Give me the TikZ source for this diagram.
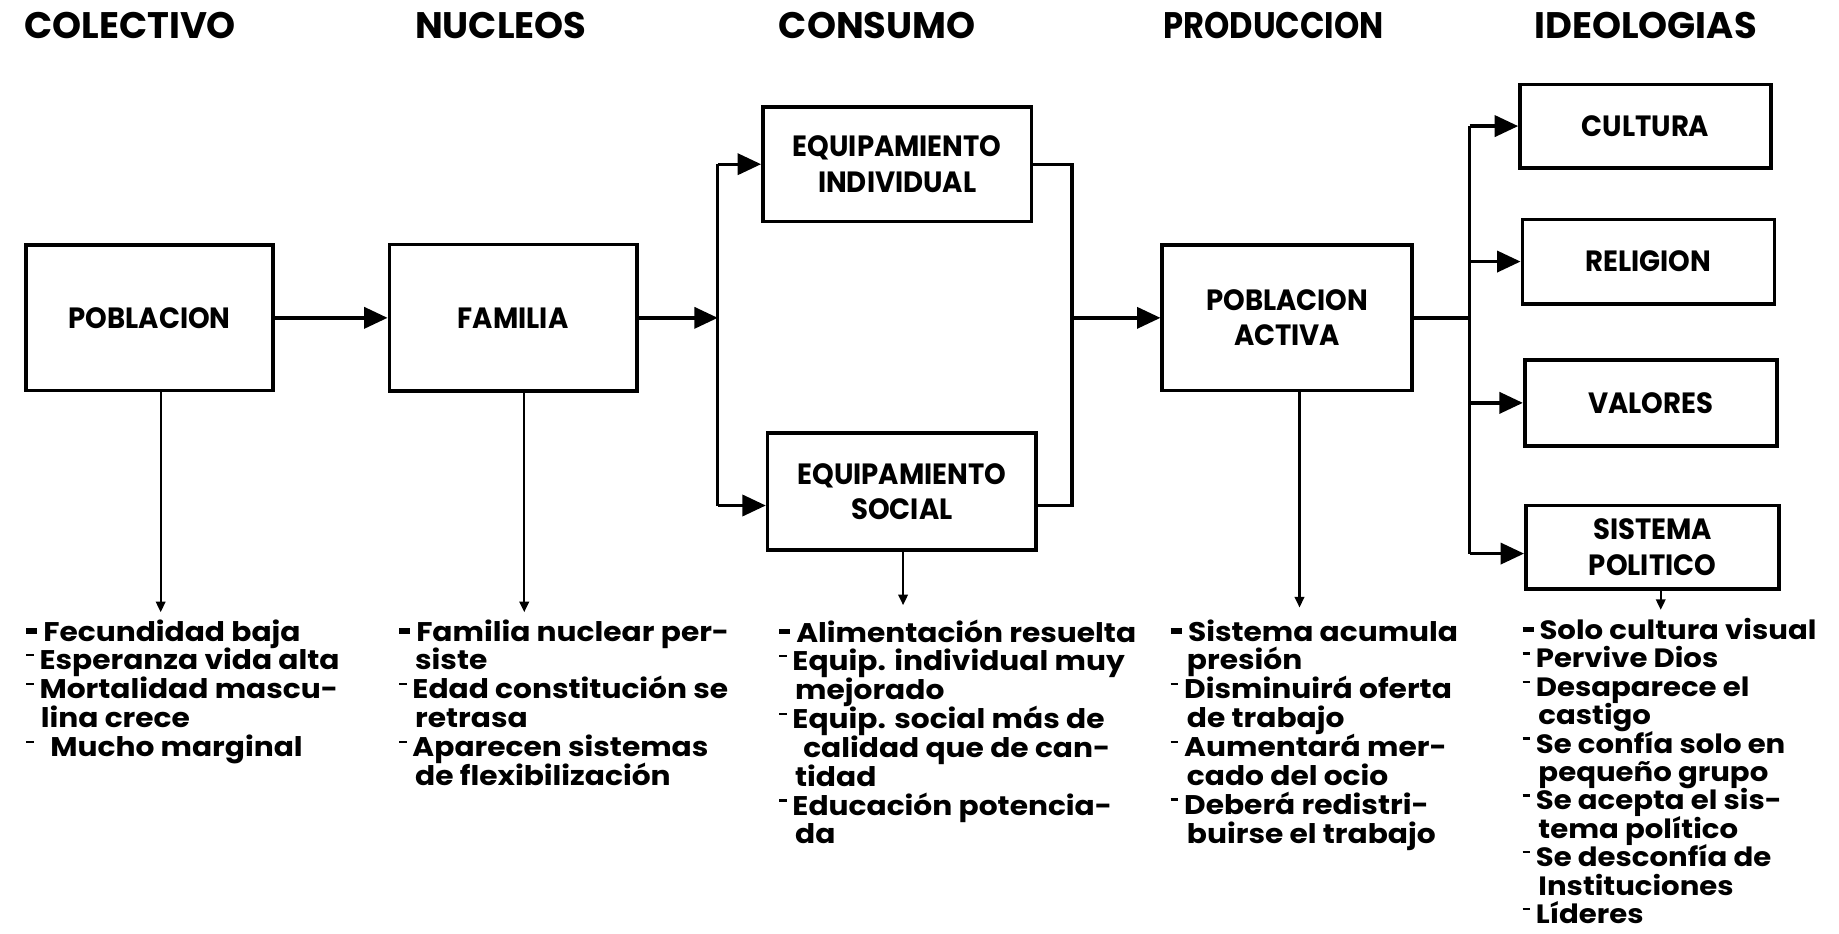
\documentclass[tikz,border=0pt]{standalone}
\usepackage{fontspec}
\setmainfont{Poppins}
\newfontfamily\bodyfont{Poppins}[FakeStretch=1.1]
\newfontfamily\hdfont{Poppins}
\newfontfamily\hdfontn{Poppins}[FakeStretch=0.87]
\newfontfamily\boxfont{Poppins}[FakeStretch=0.94]
\usetikzlibrary{arrows.meta}
\lineskiplimit=-100pt
\newcommand\mybulA{\raisebox{0.28em}{\rule{0.42em}{0.2em}}\hspace{0.22em}}
\newcommand\mybulB{\raisebox{0.5em}{\rule{0.28em}{0.09em}}\hspace{0.22em}}
\begin{document}
\begin{tikzpicture}[x=1pt,y=-1pt,
  box/.style={draw, line width=3.1pt, inner sep=0pt, align=center,
    font=\boxfont\bfseries\fontsize{25}{30}\selectfont},
  hdr/.style={inner sep=0pt, font=\hdfont\bfseries\fontsize{31.5}{32}\selectfont},
  lst/.style={inner sep=0pt, align=left, anchor=north west,
    font=\bodyfont\bfseries\fontsize{23}{24.6}\selectfont},
  wire/.style={line width=2.9pt},
  conn/.style={line width=2.9pt, -{Triangle[length=20pt,width=18pt]}},
  down/.style={line width=2pt, -{Triangle[length=9pt,width=8pt]}}]
\useasboundingbox[fill=white] (0,0) rectangle (1568,796);

% headers
\node[hdr] (h1) at (111,22) {COLECTIVO};
\node[hdr] (h2) at (427,22) {NUCLEOS};
\node[hdr] (h3) at (748,22) {CONSUMO};
\node[hdr, font=\hdfontn\bfseries\fontsize{31.5}{32}\selectfont] (h4) at (1086,22) {PRODUCCION};
\node[hdr] (h5) at (1403,22) {IDEOLOGIAS};

% boxes
\node[box, minimum width=211pt, minimum height=124pt] (pob) at (127.5,271) {POBLACION};
\node[box, minimum width=211pt, minimum height=125pt] (fam) at (437.5,271) {FAMILIA};
\node[box, minimum width=229pt, minimum height=98pt] (ei) at (765,140) {EQUIPAMIENTO\\INDIVIDUAL};
\node[box, minimum width=229pt, minimum height=100pt] (es) at (769,419) {EQUIPAMIENTO\\SOCIAL};
\node[box, minimum width=213pt, minimum height=124pt] (pa) at (1097.5,271) {POBLACION\\ACTIVA};
\node[box, minimum width=214pt, minimum height=71pt] (cul) at (1403,107.5) {CULTURA};
\node[box, minimum width=215pt, minimum height=72pt] (rel) at (1405.5,223) {RELIGION};
\node[box, minimum width=215pt, minimum height=73pt] (val) at (1407.5,343.5) {VALORES};
\node[box, minimum width=216pt, minimum height=71pt] (sp) at (1409,466.5) {SISTEMA\\POLITICO};

% lists
\node[lst] (l1) at (22,528) {\mybulA Fecundidad baja\\
\mybulB Esperanza vida alta\\
\mybulB Mortalidad mascu-\\
\hspace{0.55em}lina crece\\
\mybulB\, Mucho marginal};
\node[lst] (l2) at (340,528) {\mybulA Familia nuclear per-\\
\hspace{0.6em}siste\\
\mybulB Edad constitución se\\
\hspace{0.6em}retrasa\\
\mybulB Aparecen sistemas\\
\hspace{0.6em}de flexibilización};
\node[lst] (l3) at (664,528) {\mybulA Alimentación resuelta\\
\mybulB Equip. individual muy\\
\hspace{0.6em}mejorado\\
\mybulB Equip. social más de\\
\hspace{0.9em}calidad que de can-\\
\hspace{0.6em}tidad\\
\mybulB Educación potencia-\\
\hspace{0.6em}da};
\node[lst] (l4) at (998,528) {\mybulA Sistema acumula\\
\hspace{0.6em}presión\\
\mybulB Disminuirá oferta\\
\hspace{0.6em}de trabajo\\
\mybulB Aumentará mer-\\
\hspace{0.6em}cado del ocio\\
\mybulB Deberá redistri-\\
\hspace{0.6em}buirse el trabajo};
\node[lst, font=\bodyfont\bfseries\fontsize{22.6}{24.2}\selectfont] (l5) at (1298,527) {\mybulA Solo cultura visual\\
\mybulB Pervive Dios\\
\mybulB Desaparece el\\
\hspace{0.6em}castigo\\
\mybulB Se confía solo en\\
\hspace{0.6em}pequeño grupo\\
\mybulB Se acepta el sis-\\
\hspace{0.6em}tema político\\
\mybulB Se desconfía de\\
\hspace{0.6em}Instituciones\\
\mybulB Líderes};

% junction coordinates
\coordinate (j1) at (612,271);
\coordinate (j2) at (914,271);
\coordinate (j3) at (1253,271);
\coordinate (esin) at ([yshift=-12pt]es.west);
\coordinate (esout) at ([yshift=-12pt]es.east);
\coordinate (spin) at ([yshift=-5.5pt]sp.west);

% main flow
\draw[conn] (pob.east) -- (fam.west);
\draw[conn] (fam.east) -- (j1);
\draw[wire] (j1 |- ei.west) -- (j1 |- esin);
\draw[conn] (j1 |- ei.west) -- (ei.west);
\draw[conn] (j1 |- esin) -- (esin);
\draw[wire] (ei.east) -- (j2 |- ei.east) -- (j2 |- esout) -- (esout);
\draw[conn] (j2) -- (pa.west);
\draw[wire] (pa.east) -- (j3);
\draw[wire] (j3 |- cul.west) -- (j3 |- spin);
\draw[conn] (j3 |- cul.west) -- (cul.west);
\draw[conn] (j3 |- rel.west) -- (rel.west);
\draw[conn] (j3 |- val.west) -- (val.west);
\draw[conn] (j3 |- spin) -- (spin);

% down arrows
\coordinate (t1) at (137,522);
\coordinate (t2) at (447,522);
\coordinate (t3) at (770,516);
\coordinate (t4) at (1108,518);
\coordinate (t5) at (1416,520);
\draw[down] (pob.south -| t1) -- (t1);
\draw[down] (fam.south -| t2) -- (t2);
\draw[down] (es.south -| t3) -- (t3);
\draw[down] (pa.south -| t4) -- (t4);
\draw[down] (sp.south -| t5) -- (t5);
\end{tikzpicture}
\end{document}
